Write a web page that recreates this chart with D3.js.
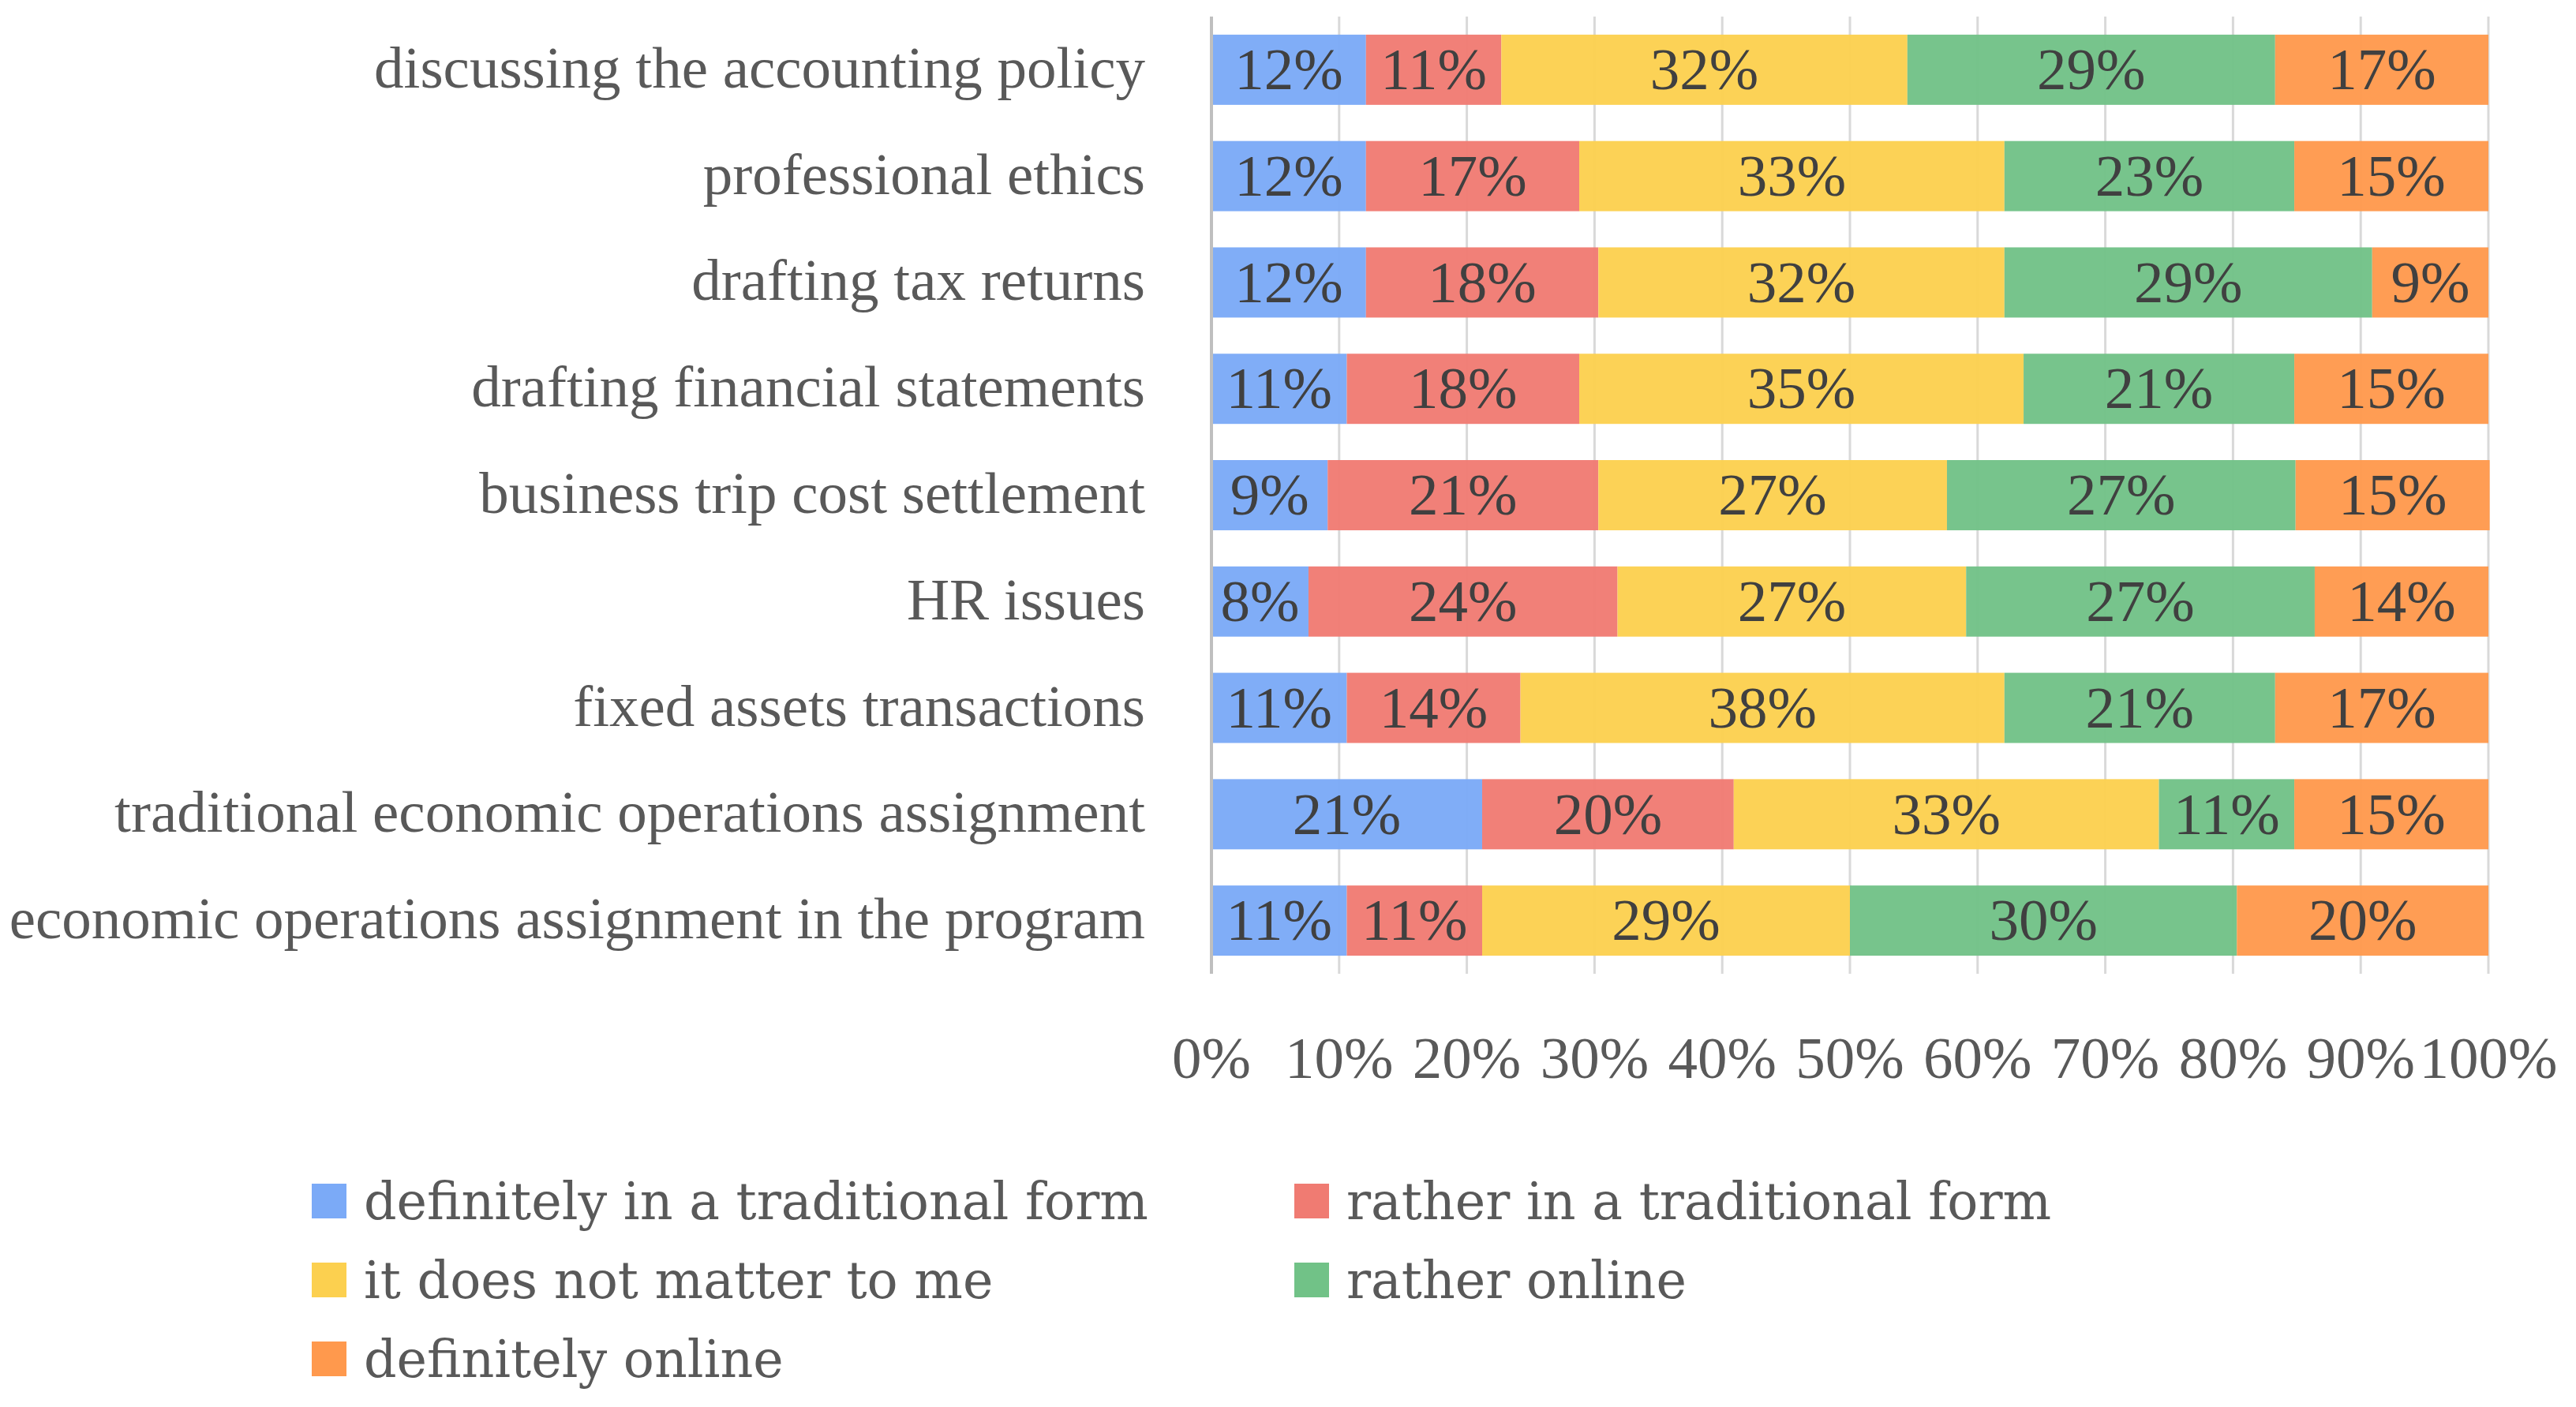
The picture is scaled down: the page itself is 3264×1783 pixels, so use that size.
<!DOCTYPE html>
<html><head><meta charset="utf-8">
<script src="https://cdn.jsdelivr.net/npm/d3@7"></script>
<style>
html,body{margin:0;padding:0;background:#fff;}
svg{display:block;}
text{font-family:"Liberation Serif","Times New Roman",serif;}
text.leg{font-family:"DejaVu Serif",serif;}
</style></head>
<body>
<script>
const categories = [
  "discussing the accounting policy",
  "professional ethics",
  "drafting tax returns",
  "drafting financial statements",
  "business trip cost settlement",
  "HR issues",
  "fixed assets transactions",
  "traditional economic operations assignment",
  "economic operations assignment in the program"
];
const seriesNames = [
  "definitely in a traditional form",
  "rather in a traditional form",
  "it does not matter to me",
  "rather online",
  "definitely online"
];
const definitelyTraditional = [12.1, 12.1, 12.1, 10.6, 9.1, 7.6, 10.6, 21.2, 10.6];
const ratherTraditional     = [10.6, 16.7, 18.2, 18.2, 21.2, 24.2, 13.6, 19.7, 10.6];
const doesNotMatter         = [31.8, 33.3, 31.8, 34.8, 27.3, 27.3, 37.9, 33.3, 28.8];
const ratherOnline          = [28.8, 22.7, 28.8, 21.2, 27.3, 27.3, 21.2, 10.6, 30.3];
const definitelyOnline      = [16.7, 15.2, 9.1, 15.2, 15.2, 13.6, 16.7, 15.2, 19.7];
const tickValues = [0,10,20,30,40,50,60,70,80,90,100];
const colors = ["#7baaf7","#f07b72","#fcd04f","#71c287","#ff994d"];

const W = 3264, H = 1783;
const FS = 75;
const x0 = 1535, x1 = 3153, yTop = 21, yBot = 1234;

const svg = d3.select("body").append("svg").attr("width", W).attr("height", H);

const x = d3.scaleLinear().domain([0,100]).range([x0, x1]);
const y = d3.scaleBand().domain(categories).range([yTop, yBot]).paddingInner(0.34).paddingOuter(0.17);

const seriesArrays = [definitelyTraditional, ratherTraditional, doesNotMatter, ratherOnline, definitelyOnline];
const rows = categories.map((c,i) => {
  const r = {cat:c};
  seriesNames.forEach((s,j)=> r[s] = seriesArrays[j][i]);
  return r;
});
const stacked = d3.stack().keys(seriesNames)(rows);

// gridlines
svg.append("g").selectAll("line").data(tickValues.slice(1)).join("line")
  .attr("x1", d=>x(d)).attr("x2", d=>x(d))
  .attr("y1", yTop).attr("y2", yBot)
  .attr("stroke", "#d9d9d9").attr("stroke-width", 3);

// bars
const g = svg.append("g");
stacked.forEach((layer, j) => {
  g.append("g").selectAll("rect").data(layer).join("rect")
    .attr("x", d => x(d[0]))
    .attr("width", d => x(d[1]) - x(d[0]))
    .attr("y", d => y(d.data.cat))
    .attr("height", y.bandwidth())
    .attr("fill", colors[j])
    .attr("fill-opacity", 0.96);
});
// labels in bars
stacked.forEach((layer, j) => {
  g.append("g").selectAll("text").data(layer).join("text")
    .attr("x", d => (x(d[0]) + x(d[1]))/2)
    .attr("y", d => y(d.data.cat) + y.bandwidth()/2)
    .attr("dy", "0.33em")
    .attr("text-anchor", "middle")
    .attr("font-size", FS)
    .attr("fill", "#404040")
    .text(d => Math.round(d[1]-d[0]) + "%");
});

// left axis line
svg.append("line").attr("x1", x0).attr("x2", x0).attr("y1", yTop).attr("y2", yBot)
  .attr("stroke", "#bfbfbf").attr("stroke-width", 4);

// category labels
svg.append("g").selectAll("text").data(categories).join("text")
  .attr("x", 1451)
  .attr("y", d => y(d) + y.bandwidth()/2)
  .attr("dy", "0.3em")
  .attr("text-anchor", "end")
  .attr("font-size", FS)
  .attr("fill", "#595959")
  .text(d => d);

// x tick labels
svg.append("g").selectAll("text").data(tickValues).join("text")
  .attr("x", d => x(d))
  .attr("y", 1341)
  .attr("dy", "0.33em")
  .attr("text-anchor", "middle")
  .attr("font-size", FS)
  .attr("fill", "#595959")
  .text(d => d + "%");

// legend
const legPos = [[395,1522],[1640,1522],[395,1622],[1640,1622],[395,1722]];
const leg = svg.append("g");
seriesNames.forEach((s,j) => {
  const [lx, ly] = legPos[j];
  leg.append("rect").attr("x", lx).attr("y", ly-22).attr("width", 44).attr("height", 44).attr("fill", colors[j]);
  leg.append("text").attr("class","leg").attr("x", lx+66).attr("y", ly).attr("dy","0.35em")
    .attr("font-size", 65).attr("fill", "#595959").text(s);
});
</script>
</body></html>
